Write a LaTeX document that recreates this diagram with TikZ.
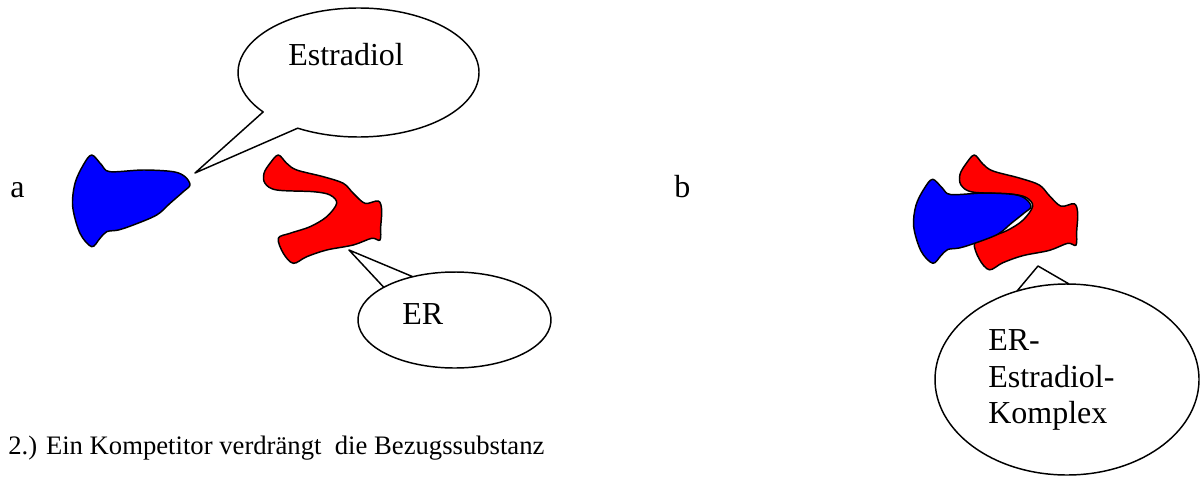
\documentclass[tikz,border=0pt]{standalone}
\usepackage{fontspec}
\setmainfont{Liberation Serif}
\begin{document}
\begin{tikzpicture}[x=0.75pt,y=-0.75pt,
  outline/.style={draw=black,line width=1.1pt,line join=round},
  molblue/.style={outline,fill=blue},
  molred/.style={outline,fill=red},
  bubble/.style={outline,fill=white},
  lbl/.style={inner sep=0pt,anchor=base west,font=\fontsize{24}{27.5}\selectfont},
  caption/.style={inner sep=0pt,anchor=base west,font=\fontsize{20}{24}\selectfont}]
\useasboundingbox (0,0) rectangle (1200,478);

% outlines of the two molecules
\def\ligand{plot[smooth cycle,tension=0.55] coordinates {
  (91.7,155) (101.7,165) (110,171.7) (143.3,170) (173.3,171.7) (185,176.7)
  (190,185) (183.3,191.7) (170,203.3) (156.7,215) (133.3,225) (118.3,230)
  (106.7,231.7) (100,238.3) (91.7,246.7) (80,233.3) (72.7,206.7) (75,183.3)
  (83.3,165)}}
\def\receptor{plot[smooth cycle,tension=0.55] coordinates {
  (278.3,155) (286.7,163.3) (296.7,170) (323.3,176.7) (343.3,183.3)
  (353.3,193.3) (365,203.3) (378.3,201) (381.7,210) (380.7,226.7) (380,240)
  (371.7,238.3) (353.3,245) (326.7,250) (306.7,256.7) (293.3,263.3)
  (283.3,253.3) (278.3,238.3) (290,233.3) (310,226.7) (326.7,216.7)
  (336.7,203.3) (330,195) (313.3,191.7) (276.7,190) (265,183.3) (264,173.3)
  (270,163.3)}}

% panel a: separate ligand and receptor
\draw[molblue] \ligand;
\draw[molred] \receptor;

% panel b: bound complex
\begin{scope}[shift={(696,-9.3)},yscale=1.06]
  \draw[molred] \receptor;
\end{scope}
\begin{scope}[shift={(841,37.3)},yscale=0.916]
  \draw[molblue] \ligand;
\end{scope}

% speech bubbles
\coordinate (tipE) at (195,173);
\coordinate (tipR) at (349,250);
\coordinate (tipK) at (1038,266);

\draw[bubble] (358.5,72.5) ++(142.3:120.5 and 64.5) coordinate (e1)
  (358.5,72.5) ++(120.3:120.5 and 64.5) coordinate (e2)
  arc (120.3:-217.7:120.5 and 64.5) -- (tipE) -- (e2) -- cycle;
\draw[bubble] (454.5,320) ++(244.4:96.5 and 48) coordinate (r2)
  arc (244.4:-137.1:96.5 and 48) -- (tipR) -- (r2) -- cycle;
\draw[bubble] (1067,379.5) ++(270.9:132 and 95.5) coordinate (k2)
  arc (270.9:-112.3:132 and 95.5) -- (tipK) -- (k2) -- cycle;

% labels
\node[lbl] (estr) at (288,65) {Estradiol};
\node[lbl] (er) at (402,324) {ER};
\node[lbl] (k1) at (988,350) {ER-};
\node[lbl] (k2t) at (988,387) {Estradiol-};
\node[lbl] (k3) at (988,423) {Komplex};
\node[lbl] (pa) at (10,197) {a};
\node[lbl] (pb) at (674,197) {b};
\node[caption] (cap) at (8,454) {2.) Ein Kompetitor verdrängt\ \ die Bezugssubstanz};
\end{tikzpicture}
\end{document}
